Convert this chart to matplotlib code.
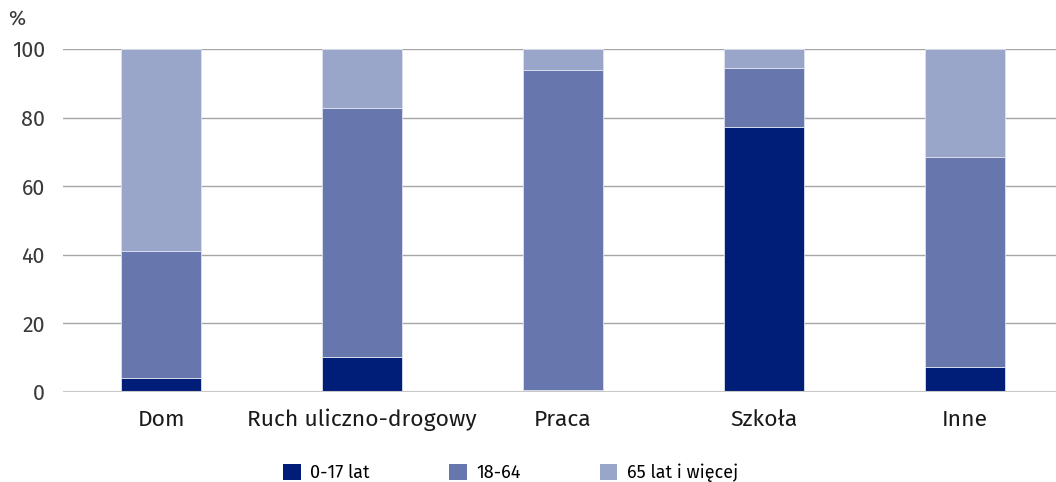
import numpy as np
from matplotlib import pyplot as plt, rcParams
from matplotlib.patches import Patch

rcParams["font.family"] = ["Fira Sans", "Lato", "DejaVu Sans"]
rcParams["font.size"] = 15

categories = ["Dom", "Ruch uliczno-drogowy", "Praca", "Szkoła", "Inne"]
age_0_17 = [4.1, 10.2, 0.5, 77.3, 7.3]
age_18_64 = [37.0, 72.6, 93.4, 17.2, 61.2]
age_65 = [58.9, 17.2, 6.1, 5.5, 31.5]
series = ["0-17 lat", "18-64", "65 lat i więcej"]
colors = ["#001e78", "#6777ad", "#9aa6c9"]
yticks = [0, 20, 40, 60, 80, 100]

fig = plt.figure(figsize=(10.56, 4.82), dpi=100)
ax = fig.add_axes([63 / 1056, 1 - 392 / 482, 1 - 63 / 1056, 343 / 482])

x = np.arange(len(categories))
bottom = np.zeros(len(categories))
for vals, c, lab in zip([age_0_17, age_18_64, age_65], colors, series):
    ax.bar(x, vals, bottom=bottom, width=0.4, color=c, edgecolor="#dde2ee",
           linewidth=0.6, label=lab, zorder=3)
    bottom += np.array(vals)

ax.set_xlim(-0.488, 4.453)
ax.set_ylim(0, 100)
ax.set_yticks(yticks)
ax.set_xticks(x, categories)
ax.grid(axis="y", color="#a6a6a6", lw=1, zorder=0)
ax.axhline(0, color="#c8c8c8", lw=1.5, zorder=4)
for s in ax.spines.values():
    s.set_visible(False)
ax.tick_params(length=0, colors="#3a3a3a")
ax.tick_params(axis="y", labelsize=15.5, pad=13)
ax.tick_params(axis="x", labelsize=16.5, pad=12, colors="#1a1a1a")
fig.text(8 / 1056, 1 - 20 / 482, "%", fontsize=15, color="#3a3a3a", va="center")

handles = [Patch(facecolor=c) for c in colors]
fig.legend(handles, series, loc="center", bbox_to_anchor=(511 / 1056, 1 - 473 / 482),
           ncol=3, frameon=False, handlelength=0.95, handleheight=0.95,
           handletextpad=0.55, columnspacing=4.4, fontsize=13)

fig.savefig("out.png", dpi=100)
